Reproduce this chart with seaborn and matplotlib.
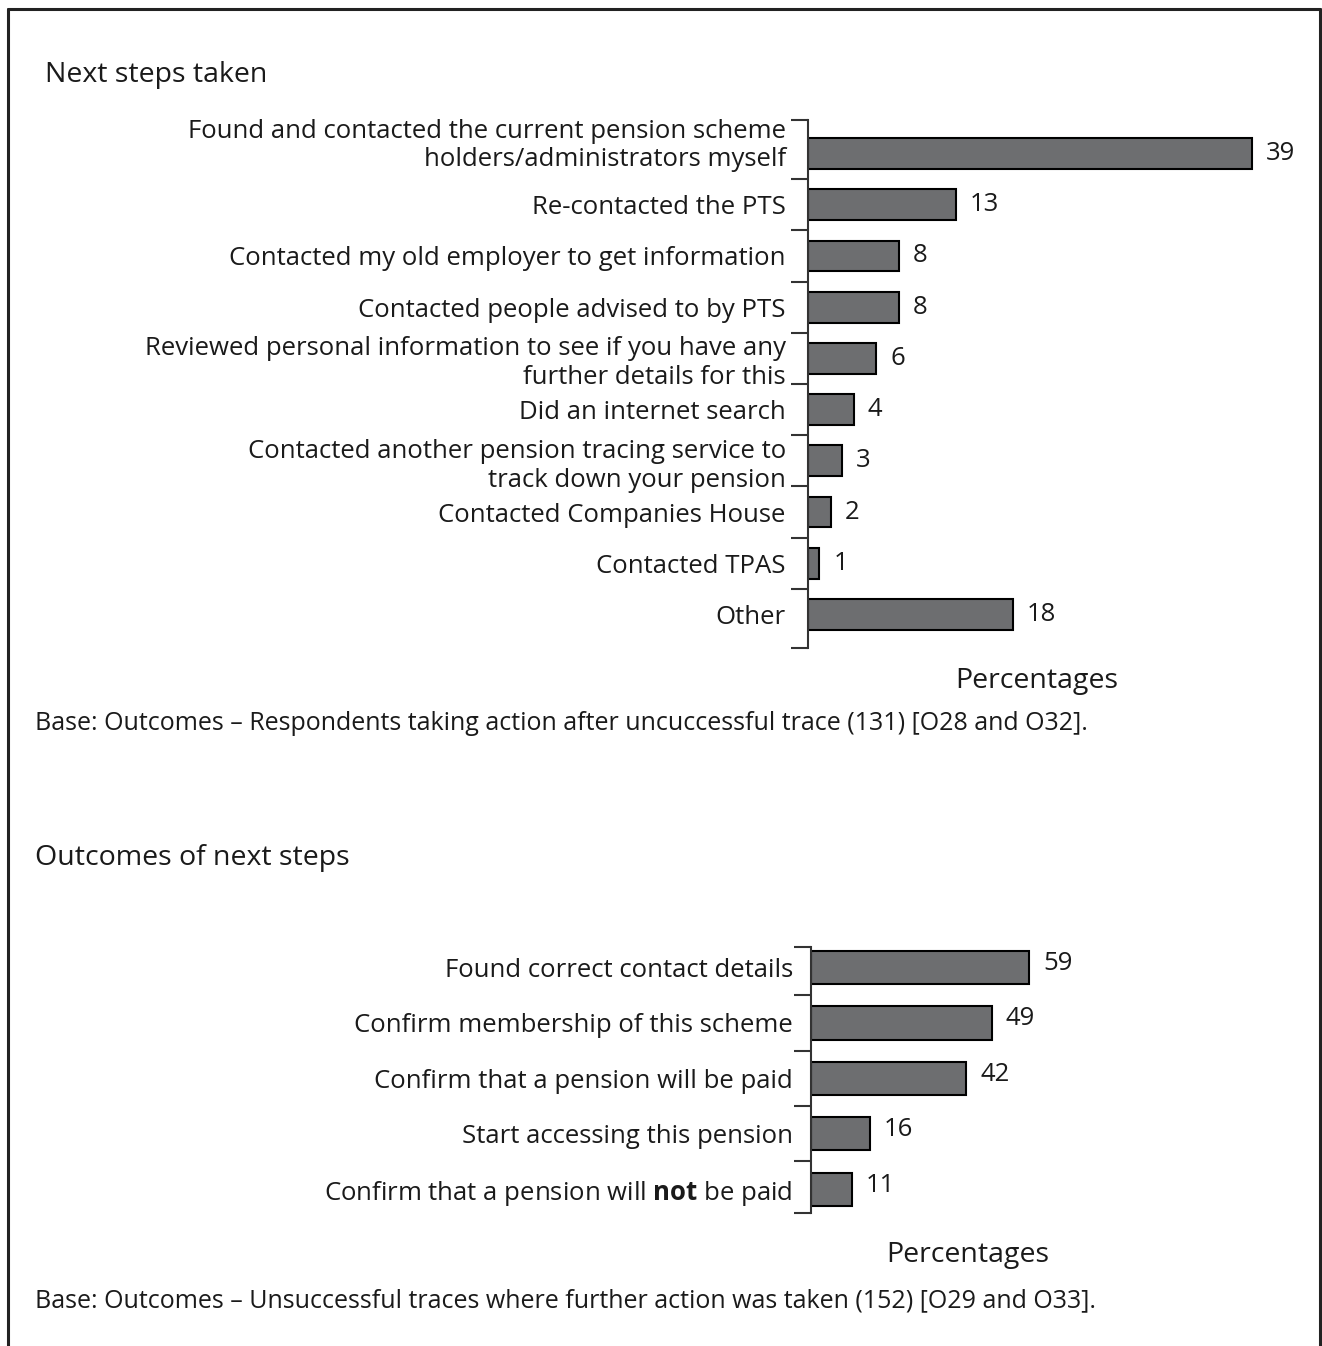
import matplotlib
matplotlib.use("Agg")
import matplotlib.pyplot as plt
from matplotlib.lines import Line2D
import seaborn as sns

# Next steps taken after an unsuccessful trace (percent of respondents)
steps_labels = [
    "Found and contacted the current pension scheme\nholders/administrators myself",
    "Re-contacted the PTS",
    "Contacted my old employer to get information",
    "Contacted people advised to by PTS",
    "Reviewed personal information to see if you have any\nfurther details for this",
    "Did an internet search",
    "Contacted another pension tracing service to\ntrack down your pension",
    "Contacted Companies House",
    "Contacted TPAS",
    "Other",
]
steps_values = [39, 13, 8, 8, 6, 4, 3, 2, 1, 18]

# Outcomes of those next steps (percent of traces)
outcome_labels = [
    "Found correct contact details",
    "Confirm membership of this scheme",
    "Confirm that a pension will be paid",
    "Start accessing this pension",
    "Confirm that a pension will $\\mathbf{not}$ be paid",
]
outcome_values = [59, 49, 42, 16, 11]

titles = ["Next steps taken", "Outcomes of next steps"]
base_notes = [
    "Base: Outcomes \u2013 Respondents taking action after uncuccessful trace (131) [O28 and O32].",
    "Base: Outcomes \u2013 Unsuccessful traces where further action was taken (152) [O29 and O33].",
]
axis_title = "Percentages"

sns.set_theme(style="white")
plt.rcParams["font.family"] = ["Open Sans", "DejaVu Sans"]
plt.rcParams["mathtext.fontset"] = "custom"
plt.rcParams["mathtext.rm"] = "Open Sans"
plt.rcParams["mathtext.bf"] = "Open Sans:bold"

W, H = 1322, 1346
fig = plt.figure(figsize=(W / 100, H / 100), dpi=100)
FS = 18.5
FS_TITLE = 20.5
FS_NOTE = 18
BAR = "#6d6e70"
INK = "#1a1a1a"


def fx(px):
    return px / W


def fy(py):
    return 1 - py / H


def draw_panel(rect, labels, values, xmax, y_top, y_bottom, pad, label_dy,
               first_label_dy=0):
    ax = fig.add_axes(rect)
    sns.barplot(x=values, y=list(range(len(labels))), orient="h", color=BAR,
                saturation=1, edgecolor="black", linewidth=1.5, width=0.6,
                ax=ax)
    n = len(labels)
    ax.set_xlim(0, xmax)
    ax.set_ylim(y_bottom, y_top)
    for s in ["top", "right", "bottom"]:
        ax.spines[s].set_visible(False)
    ax.spines["left"].set_color("#333333")
    ax.spines["left"].set_linewidth(1.5)
    ax.set_xticks([])
    ax.set_xlabel("")
    ax.set_ylabel("")
    # tick marks between categories and at both ends of the axis line
    ax.set_yticks([y_top] + [k + 0.5 for k in range(n - 1)] + [y_bottom])
    ax.set_yticklabels([])
    ax.tick_params(axis="y", which="major", length=12, width=1.5,
                   color="#333333", direction="out", left=True)
    ax.set_yticks(list(range(n)), minor=True)
    shown = list(labels)
    if first_label_dy:
        shown[0] = ""
        ax.annotate(labels[0], xy=(0, 0), xycoords=("axes fraction", "data"),
                    xytext=(-pad, first_label_dy), textcoords="offset points",
                    ha="right", va="center", fontsize=FS, color=INK)
    ax.set_yticklabels(shown, minor=True, fontsize=FS, color=INK)
    ax.tick_params(axis="y", which="minor", length=0, pad=pad)
    for i, v in enumerate(values):
        ax.annotate(str(v), xy=(v, i), xytext=(10, label_dy),
                    textcoords="offset points", va="center", ha="left",
                    fontsize=FS, color=INK)
    return ax


ax1 = draw_panel([fx(808), fy(648), fx(458), (648 - 120) / H],
                 steps_labels, steps_values, 40.2, -0.654, 9.654, 16, 0,
                 first_label_dy=5.8)
ax2 = draw_panel([fx(811), fy(1213), fx(314), (1213 - 947) / H],
                 outcome_labels, outcome_values, 85, -0.37, 4.43, 13, 3)

fig.text(fx(45), fy(75), titles[0], fontsize=FS_TITLE, color=INK, va="center", ha="left")
fig.text(fx(1037), fy(681), axis_title, fontsize=FS_TITLE, color=INK, va="center", ha="center")
fig.text(fx(35), fy(723), base_notes[0], fontsize=FS_NOTE, color=INK, va="center", ha="left")

fig.text(fx(35), fy(858), titles[1], fontsize=FS_TITLE, color=INK, va="center", ha="left")
fig.text(fx(968), fy(1255), axis_title, fontsize=FS_TITLE, color=INK, va="center", ha="center")
fig.text(fx(35), fy(1301), base_notes[1], fontsize=FS_NOTE, color=INK, va="center", ha="left")

# frame around the page: left, top and right edges
frame = dict(color="#222222", linewidth=2.2, transform=fig.transFigure)
fig.add_artist(Line2D([fx(8), fx(8)], [0, fy(9)], **frame))
fig.add_artist(Line2D([fx(8), fx(1320)], [fy(9), fy(9)], **frame))
fig.add_artist(Line2D([fx(1320), fx(1320)], [fy(9), 0], **frame))

fig.savefig("out.png", dpi=100, facecolor="white")
